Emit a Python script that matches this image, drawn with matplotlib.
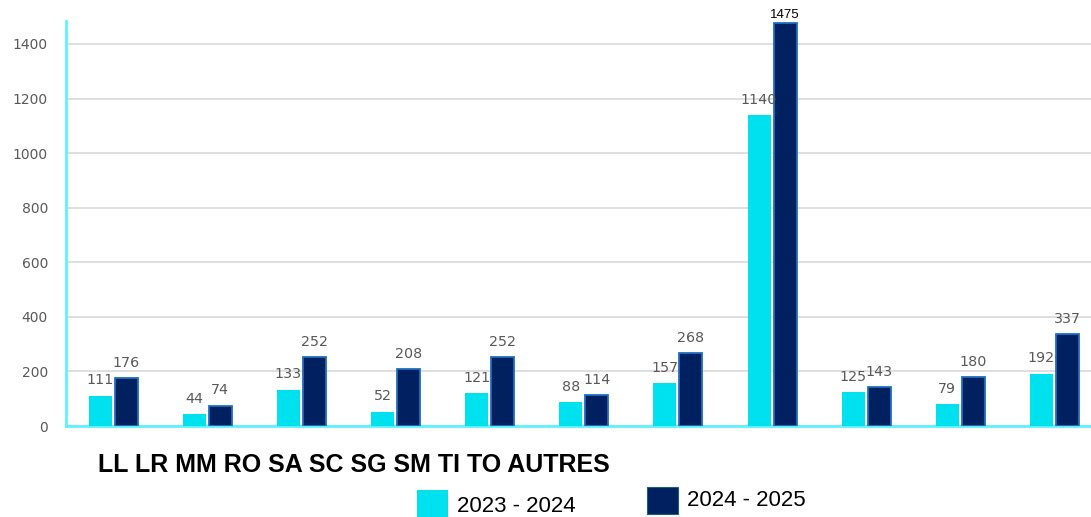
import matplotlib
matplotlib.use("Agg")
import matplotlib.pyplot as plt
from matplotlib.patches import Rectangle
import numpy as np

categories = ["LL", "LR", "MM", "RO", "SA", "SC", "SG", "SM", "TI", "TO", "AUTRES"]
series_names = ["2023 - 2024", "2024 - 2025"]
values_2023 = [111, 44, 133, 52, 121, 88, 157, 1140, 125, 79, 192]
values_2024 = [176, 74, 252, 208, 252, 114, 268, 1475, 143, 180, 337]
yticks = [0, 200, 400, 600, 800, 1000, 1200, 1400]

plt.rcParams['font.family'] = ['Liberation Sans', 'DejaVu Sans']

CYAN = "#00E1F0"
NAVY = "#002060"
NAVY_EDGE = "#1F6FC0"
LABEL_GRAY = "#595959"
NUM_FONT = ['DejaVu Sans']

fig = plt.figure(figsize=(10.91, 5.17), dpi=100)
ax = fig.add_axes([66/1091, 91/517, (1091-66)/1091, 405/517])

x = np.arange(len(categories))
w = 0.245
off = 0.138
ax.bar(x - off, values_2023, width=w, color=CYAN, edgecolor="none", zorder=3)
ax.bar(x + off, values_2024, width=w, color=NAVY, edgecolor=NAVY_EDGE, linewidth=1.3, zorder=3)

for xi, v in zip(x - off, values_2023):
    ax.annotate(str(v), (xi, v), xytext=(0, 6), textcoords="offset points",
                ha="center", va="bottom", fontsize=10.3, color=LABEL_GRAY,
                family=NUM_FONT, zorder=4)
for xi, v in zip(x + off, values_2024):
    if v == max(values_2024):
        ax.annotate(str(v), (xi, v), xytext=(0, 2), textcoords="offset points",
                    ha="center", va="bottom", fontsize=9.5, color="black", zorder=4)
    else:
        ax.annotate(str(v), (xi, v), xytext=(0, 6), textcoords="offset points",
                    ha="center", va="bottom", fontsize=10.3, color=LABEL_GRAY,
                    family=NUM_FONT, zorder=4)

ax.set_xlim(-0.5, (1091 - 113.5) / 94.1)
ax.set_ylim(0, 1484)
ax.set_yticks(yticks)
ax.set_yticklabels([str(t) for t in yticks], fontsize=10, color=LABEL_GRAY, family=NUM_FONT)
ax.tick_params(axis="y", length=0, pad=13)
ax.set_xticks([])
ax.grid(axis="y", color="#D9D9D9", linewidth=1.2, zorder=0)
ax.set_axisbelow(True)
for s in ["top", "right"]:
    ax.spines[s].set_visible(False)
ax.spines["left"].set_color("#5CF2FF")
ax.spines["left"].set_linewidth(2)
ax.spines["bottom"].set_color("#5CF2FF")
ax.spines["bottom"].set_linewidth(2)

# squeezed category labels row
fig.text(98/1091, 1 - 465/517, " ".join(categories), fontsize=18, fontweight="bold",
         color="black", ha="left", va="center")

# legend entries
fig.add_artist(Rectangle((417/1091, 0), 31/1091, 27/517, transform=fig.transFigure,
                         facecolor=CYAN, edgecolor="none"))
fig.text(457/1091, 1 - 507/517, series_names[0], fontsize=16, color="black",
         ha="left", va="center")
fig.add_artist(Rectangle((647/1091, 3/517), 31/1091, 27/517, transform=fig.transFigure,
                         facecolor=NAVY, edgecolor="#1F6070", linewidth=0.8))
fig.text(687/1091, 1 - 500/517, series_names[1], fontsize=16, color="black",
         ha="left", va="center")

fig.savefig("out.png", dpi=100)
